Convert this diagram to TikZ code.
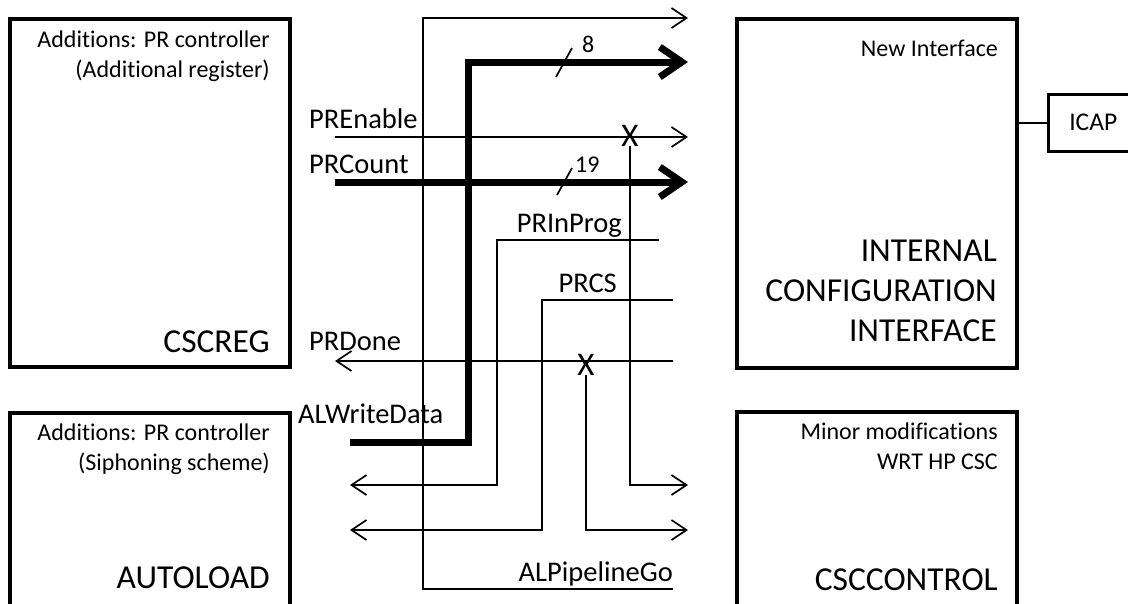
\documentclass[tikz,border=0pt]{standalone}
\usepackage{fontspec}
\setmainfont{Carlito}[Ligatures={NoCommon,NoContextual}, Contextuals=NoAlternate]
\usetikzlibrary{arrows.meta,positioning,calc}

\tikzset{
  blockbox/.style={draw, line width=4pt, minimum width=280pt, inner sep=0pt, outer sep=0pt, anchor=north west},
  sig/.style={line width=1.7pt},
  bus/.style={line width=7pt},
  thinarr/.style={-{Straight Barb[length=15pt,width=20pt]}},
  busarr/.style={-{Straight Barb[length=22pt,width=30pt]}},
  sml/.style={font=\fontsize{24}{30}\selectfont, inner sep=0pt},
  big/.style={font=\fontsize{33.5}{40}\selectfont, inner sep=0pt},
  lbl/.style={font=\fontsize{28.5}{34}\selectfont, inner sep=0pt},
  xmark/.style={font=\fontsize{33}{34}\selectfont, inner sep=0pt, anchor=base},
}

\begin{document}
\begin{tikzpicture}[x=1pt, y=-1pt]
\useasboundingbox (0,0) rectangle (1128,603);

% Blocks
\node[blockbox, minimum height=348pt] (cscreg) at (10,19) {};
\node[blockbox, minimum height=200pt] (autoload) at (10,413) {};
\node[blockbox, minimum height=349pt] (ici) at (737,19) {};
\node[blockbox, minimum height=200pt] (csccontrol) at (737,412) {};
\node[sml, font=\fontsize{25.5}{30}\selectfont, draw, line width=2.5pt, minimum width=90pt, minimum height=57pt, anchor=north west] (icap) at (1047,93) {ICAP};
\draw[sig] (icap.west) -- (icap.west -| ici.east);

% Block texts
\node[sml, align=right, anchor=north east] (regnote) at ([xshift=-20pt, yshift=-12pt]cscreg.north east) {Additions: PR controller\\(Additional register)};
\node[big, anchor=base east] (regname) at ([xshift=-20pt, yshift=15pt]cscreg.south east) {CSCREG};
\node[sml, align=right, anchor=north east] (alnote) at ([xshift=-20pt, yshift=-11pt]autoload.north east) {Additions: PR controller\\(Siphoning scheme)};
\node[big, anchor=base east] (alname) at (270,588) {AUTOLOAD};
\node[sml, anchor=north east] (icinote) at ([xshift=-19pt, yshift=-21pt]ici.north east) {New Interface};
\node[big, align=right, anchor=south east] (iciname) at ([xshift=-20pt, yshift=26pt]ici.south east) {INTERNAL\\CONFIGURATION\\INTERFACE};
\node[sml, align=right, anchor=north east] (ctlnote) at ([xshift=-19pt, yshift=-11pt]csccontrol.north east) {Minor modifications\\WRT HP CSC};
\node[big, anchor=base east] (ctlname) at (998,590) {CSCCONTROL};

% ALPipelineGo
\coordinate (pgoA) at (673,589);
\coordinate (pgoB) at (423,18);
\coordinate (pgoC) at (688,18);
\draw[sig, thinarr] (pgoA) -| (pgoB) -- (pgoC);
\node[lbl, anchor=base east] (pgolbl) at (673,581) {ALPipelineGo};

% ALWriteData (8 bits)
\coordinate (wdA) at (350,442);
\coordinate (wdB) at (468,62);
\coordinate (wdC) at (688,62);
\draw[bus, busarr] (wdA) -| (wdB) -- (wdC);
\node[lbl, anchor=base west] (wdlbl) at (298,423) {ALWriteData};
\draw[sig] (556,77) -- (572,48);
\node[sml, anchor=base west] (wdbits) at (582,52) {8};

% PREnable
\coordinate (enA) at (335,137);
\coordinate (enB) at (688,137);
\draw[sig, thinarr] (enA) -- (enB);
\node[lbl, anchor=base west] (enlbl) at (309,128) {PREnable};

% PRCount (19 bits)
\coordinate (cnA) at (335,182);
\coordinate (cnB) at (688,182);
\draw[bus, busarr] (cnA) -- (cnB);
\node[lbl, anchor=base west] (cnlbl) at (309,173) {PRCount};
\draw[sig] (557,195) -- (572,168);
\node[sml, anchor=base west] (cnbits) at (575,172) {19};

% crossing marks
\node[xmark] (xa) at (630,146) {X};
\coordinate (xaE) at (688,485);
\draw[sig, thinarr] (xa.south) |- (xaE);
\node[xmark] (xb) at (586,375) {X};
\coordinate (xbE) at (688,530);
\draw[sig, thinarr] (xb.south) |- (xbE);

% PRInProg
\coordinate (ipA) at (659,240);
\coordinate (ipB) at (497,485);
\coordinate (ipC) at (350,485);
\draw[sig, thinarr] (ipA) -| (ipB) -- (ipC);
\node[lbl, anchor=base east] (iplbl) at (622,232) {PRInProg};

% PRCS
\coordinate (csA) at (673,300);
\coordinate (csB) at (542,530);
\coordinate (csC) at (350,530);
\draw[sig, thinarr] (csA) -| (csB) -- (csC);
\node[lbl, anchor=base east] (cslbl) at (617,292) {PRCS};

% PRDone
\coordinate (dnA) at (673,361);
\coordinate (dnB) at (335,361);
\draw[sig, thinarr] (dnA) -- (dnB);
\node[lbl, anchor=base west] (dnlbl) at (309,350) {PRDone};

\end{tikzpicture}
\end{document}
